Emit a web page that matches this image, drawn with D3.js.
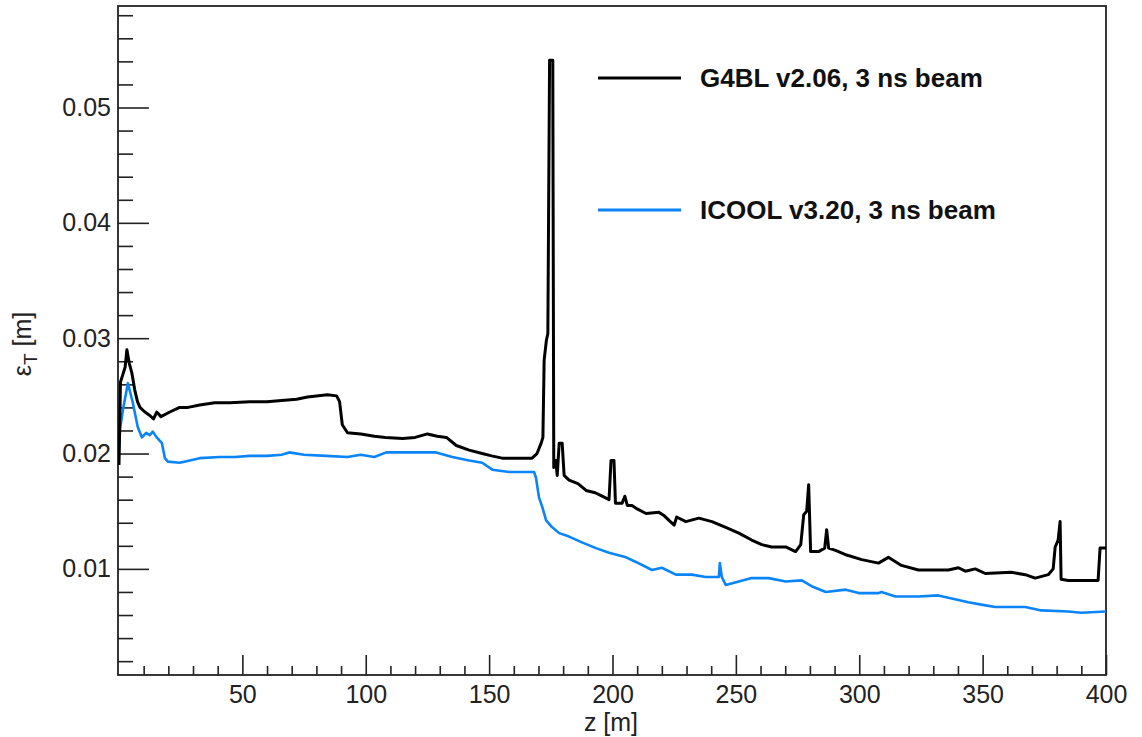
<!DOCTYPE html>
<html>
<head>
<meta charset="utf-8">
<script src="https://cdn.jsdelivr.net/npm/d3@7"></script>
<style>
  body { margin: 0; background: #fff; }
  svg { display: block; font-family: "Liberation Sans", Arial, Helvetica, sans-serif; }
</style>
</head>
<body>
<svg id="chart"></svg>
<script>
// z [m], emittance [m]
const g4bl = [
  [0, 0.0190], [0.3, 0.0225], [0.6, 0.0262], [1.5, 0.0268], [2.5, 0.0275], [3.2, 0.0290],
  [4.2, 0.0278], [5.2, 0.0270], [6.4, 0.0255], [7.5, 0.0245], [8.5, 0.0240], [10.5, 0.0236],
  [12.5, 0.0233], [14, 0.0230], [15.3, 0.0236], [17, 0.0232], [20.6, 0.0236], [24.6, 0.0240],
  [28, 0.0240], [32.7, 0.0242], [38.8, 0.0244], [45, 0.0244], [53, 0.0245], [60, 0.0245],
  [65.9, 0.0246], [72, 0.0247], [76.4, 0.0249], [84.5, 0.0251], [88.2, 0.0250], [89.4, 0.0245],
  [90.5, 0.0225], [92.6, 0.0218], [98, 0.0217], [103.5, 0.0215], [108, 0.0214], [114.9, 0.0213],
  [120, 0.0214], [125, 0.0217], [129, 0.0215], [132.7, 0.0214], [136.7, 0.0207], [141.9, 0.0203],
  [147.2, 0.0200], [151, 0.0198], [155.3, 0.0196], [160, 0.0196], [165, 0.0196], [167.4, 0.0196],
  [169.4, 0.0200], [171.1, 0.0209], [171.8, 0.0214], [172.3, 0.0281], [173.2, 0.0298], [173.8, 0.0304],
  [174.5, 0.0541], [175.8, 0.0541], [176.2, 0.0188], [177, 0.0194], [177.6, 0.0181], [178.4, 0.0209],
  [179.6, 0.0209], [180.4, 0.0181], [182.4, 0.0177], [186, 0.0174], [189.3, 0.0168], [193, 0.0166],
  [195.8, 0.0163], [198.6, 0.0160], [199.4, 0.0194], [200.6, 0.0194], [201.2, 0.0157], [203.9, 0.0157],
  [205, 0.0163], [206, 0.0155], [207.9, 0.0155], [210, 0.0152], [213.6, 0.0148], [218.8, 0.0149],
  [221, 0.0146], [222.9, 0.0142], [225, 0.0138], [226, 0.0145], [229.7, 0.0141], [235, 0.0144],
  [240.3, 0.0141], [245.9, 0.0136], [251.2, 0.0131], [256.4, 0.0125], [260.5, 0.0121], [264.5, 0.0119],
  [270.2, 0.0119], [274.2, 0.0115], [276.3, 0.0121], [277.5, 0.0147], [278.7, 0.0150], [279.5, 0.0173],
  [280.3, 0.0115], [283.5, 0.0115], [286, 0.0118], [286.8, 0.0134], [287.6, 0.0118], [290.4, 0.0116],
  [294.9, 0.0112], [301, 0.0108], [307.8, 0.0105], [311.8, 0.0110], [317.1, 0.0103], [324, 0.0099],
  [336.1, 0.0099], [340.2, 0.0101], [343, 0.0098], [347, 0.0100], [351.1, 0.0096], [361.6, 0.0097],
  [367.3, 0.0095], [371.3, 0.0092], [376.6, 0.0095], [378.6, 0.0100], [379.4, 0.0119], [380.6, 0.0125],
  [381.4, 0.0141], [381.8, 0.0091], [384.7, 0.0090], [396.8, 0.0090], [397.6, 0.0118], [400, 0.0118]
];

const icool = [
  [0, 0.0203], [0.4, 0.0221], [1.6, 0.0238], [3.6, 0.0261], [5.6, 0.0244], [7.6, 0.0223],
  [9.3, 0.0214], [11, 0.0218], [12.5, 0.0216], [13.7, 0.0219], [15.3, 0.0214], [17.4, 0.0209],
  [18.6, 0.0196], [19.8, 0.0193], [24.6, 0.0192], [28.7, 0.0194], [32.7, 0.0196], [40.8, 0.0197],
  [47, 0.0197], [53, 0.0198], [60, 0.0198], [65.9, 0.0199], [69, 0.0201], [75, 0.0199],
  [84, 0.0198], [92.6, 0.0197], [98, 0.0199], [103.5, 0.0197], [108.3, 0.0201], [118, 0.0201],
  [128.5, 0.0201], [135.1, 0.0197], [141.9, 0.0194], [147.2, 0.0192], [151.3, 0.0186], [158.1, 0.0184],
  [168.2, 0.0184], [169, 0.0179], [170.2, 0.0162], [171.5, 0.0154], [173.1, 0.0142], [175.1, 0.0137],
  [178.4, 0.0131], [182.4, 0.0128], [187.6, 0.0123], [193.3, 0.0118], [198.6, 0.0114], [205.5, 0.0110],
  [209.5, 0.0106], [216, 0.0099], [220, 0.0101], [225.7, 0.0095], [232.2, 0.0095], [237.8, 0.0093],
  [243.1, 0.0093], [243.5, 0.0105], [244.3, 0.0093], [245.9, 0.0086], [251.2, 0.0089], [256.4, 0.0092],
  [263.3, 0.0092], [270.2, 0.0089], [276.7, 0.0090], [280.7, 0.0085], [286.4, 0.0080], [294.5, 0.0082],
  [299.8, 0.0079], [307.8, 0.0079], [309, 0.0080], [314.7, 0.0076], [324, 0.0076], [332, 0.0077],
  [336.1, 0.0075], [344.2, 0.0071], [349.5, 0.0069], [355.1, 0.0067], [360.4, 0.0067], [367.3, 0.0067],
  [373.8, 0.0064], [384.7, 0.0063], [389.9, 0.0062], [400, 0.0063]
];

const seriesNames = ["G4BL v2.06, 3 ns beam", "ICOOL v3.20, 3 ns beam"];
const seriesColors = ["#000000", "#0a84f7"];
const xMajorTicks = [50, 100, 150, 200, 250, 300, 350, 400];
const yMajorTicks = [0.01, 0.02, 0.03, 0.04, 0.05];

const width = 1142, height = 737;
const margin = { top: 6, right: 36, bottom: 62, left: 118 };
const innerW = width - margin.left - margin.right;
const innerH = height - margin.top - margin.bottom;

const svg = d3.select("#chart").attr("width", width).attr("height", height);
const chart = svg.append("g").attr("transform", `translate(${margin.left}, ${margin.top})`);

const x = d3.scaleLinear().domain([-0.4, 400]).range([0, innerW]);
const y = d3.scaleLinear().domain([0.0008, 0.0588]).range([innerH, 0]);

chart.append("clipPath").attr("id", "clip")
  .append("rect").attr("width", innerW).attr("height", innerH);

// minor ticks
const xMinor = d3.range(10, 400, 10).filter(v => v % 50 !== 0);
const yMinor = d3.range(2, 59, 2).map(v => v / 1000).filter(v => Math.round(v * 1000) % 10 !== 0);

chart.append("g").attr("transform", `translate(0, ${innerH})`)
  .call(d3.axisBottom(x).tickValues(xMinor).tickFormat("").tickSizeInner(-9).tickSizeOuter(0))
  .call(g => g.select(".domain").remove());
chart.append("g")
  .call(d3.axisLeft(y).tickValues(yMinor).tickFormat("").tickSizeInner(-15).tickSizeOuter(0))
  .call(g => g.select(".domain").remove());

const xAxis = chart.append("g").attr("transform", `translate(0, ${innerH})`)
  .call(d3.axisBottom(x).tickValues(xMajorTicks).tickFormat(d3.format("d"))
    .tickSizeInner(-20).tickSizeOuter(0).tickPadding(10))
  .call(g => g.select(".domain").remove());
const yAxis = chart.append("g")
  .call(d3.axisLeft(y).tickValues(yMajorTicks).tickFormat(d3.format(".2f"))
    .tickSizeInner(-31).tickSizeOuter(0).tickPadding(7))
  .call(g => g.select(".domain").remove());

chart.selectAll(".tick line").attr("stroke", "#222").attr("stroke-width", 1.6);
chart.selectAll(".tick text").attr("fill", "#222").style("font-size", "25px");

// frame
chart.append("rect")
  .attr("width", innerW).attr("height", innerH)
  .attr("fill", "none").attr("stroke", "#222").attr("stroke-width", 1.8);

const line = d3.line()
  .x(d => x(d[0]))
  .y(d => y(d[1]));

const plot = chart.append("g").attr("clip-path", "url(#clip)");
plot.append("path").datum(icool)
  .attr("d", line).attr("fill", "none")
  .attr("stroke", seriesColors[1]).attr("stroke-width", 2.6).attr("stroke-linejoin", "round");
plot.append("path").datum(g4bl)
  .attr("d", line).attr("fill", "none")
  .attr("stroke", seriesColors[0]).attr("stroke-width", 3).attr("stroke-linejoin", "round");

// legend
const legendY = [78, 210];
const legend = svg.append("g");
seriesNames.forEach((name, i) => {
  legend.append("line")
    .attr("x1", 598).attr("x2", 681)
    .attr("y1", legendY[i]).attr("y2", legendY[i])
    .attr("stroke", seriesColors[i]).attr("stroke-width", 3);
  legend.append("text")
    .attr("x", 700).attr("y", legendY[i] + 9)
    .style("font-size", "26px").style("font-weight", "bold")
    .attr("fill", "#111")
    .text(name);
});

// axis titles
svg.append("text")
  .attr("x", 611).attr("y", 731)
  .attr("text-anchor", "middle")
  .style("font-size", "25px").attr("fill", "#222")
  .text("z [m]");

const yTitle = svg.append("text")
  .attr("transform", "translate(31, 344) rotate(-90)")
  .attr("text-anchor", "middle")
  .style("font-size", "25px").attr("fill", "#222");
yTitle.append("tspan").text("\u03b5");
yTitle.append("tspan").attr("dy", 6).style("font-size", "19px").text("T");
yTitle.append("tspan").attr("dy", -6).text(" [m]");
</script>
</body>
</html>
